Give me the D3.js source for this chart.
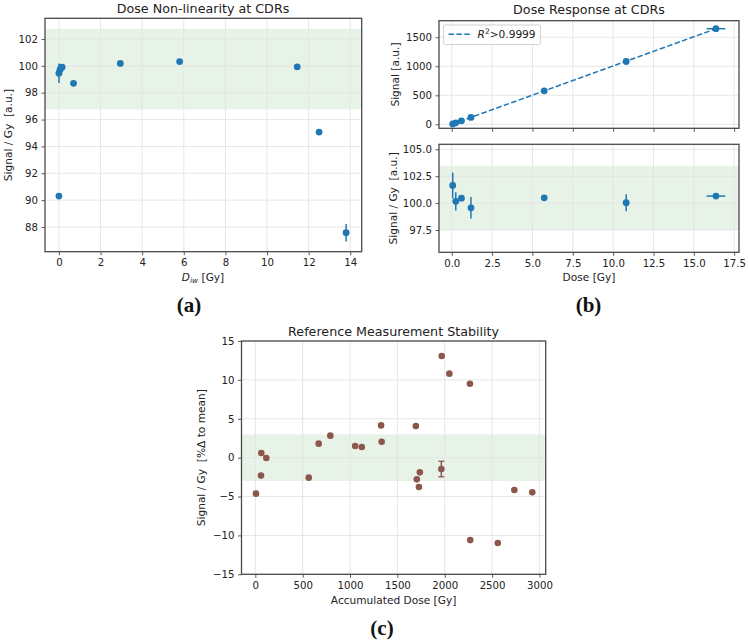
<!DOCTYPE html>
<html>
<head>
<meta charset="utf-8">
<script src="https://cdn.jsdelivr.net/npm/d3@7"></script>
<style>
  html, body { margin: 0; padding: 0; background: #fff; }
  svg { display: block; }
  text { font-family: "DejaVu Sans", sans-serif; fill: #222; }
  text.plabel { font-family: "Liberation Serif", "Times New Roman", Times, serif; font-weight: bold; fill: #111; }
</style>
</head>
<body>
<svg id="chart" width="748" height="641"></svg>
<script>
// ---------- Data ----------
// (a) Dose non-linearity
const doseA      = [0.0, 0.0, 0.05, 0.1, 0.15, 0.7, 2.95, 5.8, 11.45, 12.5, 13.8];
const sigA       = [90.3, 99.45, 99.7, 99.85, 99.9, 98.7, 100.18, 100.32, 99.93, 95.07, 87.57];
const sigErrA    = [0.1, 0.73, 0.4, 0.25, 0.15, 0.1, 0.1, 0.1, 0.1, 0.1, 0.65];
const bandA      = [96.75, 102.75];
const xTicksA    = [0, 2, 4, 6, 8, 10, 12, 14];
const yTicksA    = [88, 90, 92, 94, 96, 98, 100, 102];

// (b) Dose response
const doseB      = [0.06, 0.25, 0.6, 1.19, 5.73, 10.81, 16.37];
const doseErrB   = [0.02, 0.02, 0.03, 0.05, 0.1, 0.15, 0.58];
const signalB    = [6, 25, 60, 118, 577, 1083, 1648];
const sigPerGyB  = [101.64, 100.16, 100.46, 99.56, 100.49, 100.03, 100.65];
const sigPerGyErrB = [1.2, 0.85, 0.15, 1.0, 0.15, 0.78, 0.15];
const fitDose    = [0, 16.37];
const fitSignal  = [0, 1647];
const bandB      = [97.47, 103.47];
const xTicksB    = [0, 2.5, 5, 7.5, 10, 12.5, 15, 17.5];
const yTicksBtop = [0, 500, 1000, 1500];
const yTicksBbot = [97.5, 100, 102.5, 105];

// (c) Reference measurement stability
const accDose    = [7, 60, 63, 116, 564, 669, 792, 1054, 1124, 1328, 1334, 1695, 1705, 1727, 1737, 1964, 1968, 2049, 2266, 2269, 2560, 2735, 2924];
const devC       = [-4.63, -2.31, 0.59, -0.05, -2.57, 1.8, 2.83, 1.49, 1.36, 4.15, 2.05, 4.06, -2.79, -3.78, -1.89, -1.46, 13.07, 10.8, 9.51, -10.6, -10.98, -4.16, -4.46];
const devErrC    = [0, 0, 0, 0, 0, 0, 0, 0, 0, 0, 0, 0, 0, 0, 0, 1.0, 0, 0, 0, 0, 0, 0, 0];
const bandC      = [-3, 3];
const xTicksC    = [0, 500, 1000, 1500, 2000, 2500, 3000];
const yTicksC    = [-15, -10, -5, 0, 5, 10, 15];

// ---------- Style ----------
const BLUE = "#1f77b4", BROWN = "#8c564b";
const SPINE = "#4a4a4a", GRID = "#e3e3e3", BAND = "#e8f3e8";
const TICK_FS = 10.2, LABEL_FS = 10.6, TITLE_FS = 12.7, PANEL_FS = 21;

const svg = d3.select("#chart");

function panel(o) {
  const g = svg.append("g");
  const x = d3.scaleLinear().domain(o.xDomain).range([o.left, o.right]);
  const y = d3.scaleLinear().domain(o.yDomain).range([o.bottom, o.top]);
  if (o.band) {
    g.append("rect")
      .attr("x", o.left).attr("width", o.right - o.left)
      .attr("y", y(o.band[1])).attr("height", y(o.band[0]) - y(o.band[1]))
      .attr("fill", BAND);
  }
  const grid = g.append("g");
  grid.selectAll("line.gx").data(o.xTicks).join("line")
    .attr("x1", d => x(d)).attr("x2", d => x(d))
    .attr("y1", o.top).attr("y2", o.bottom)
    .attr("stroke", GRID).attr("stroke-width", 0.9);
  grid.selectAll("line.gy").data(o.yTicks).join("line")
    .attr("y1", d => y(d)).attr("y2", d => y(d))
    .attr("x1", o.left).attr("x2", o.right)
    .attr("stroke", GRID).attr("stroke-width", 0.9);
  const xa = g.append("g").attr("transform", `translate(0,${o.bottom})`)
    .call(d3.axisBottom(x).tickValues(o.xTicks).tickSize(3.5).tickPadding(3.5)
      .tickFormat(o.xLabels === false ? () => "" : (o.xFmt || (d => d))));
  const ya = g.append("g").attr("transform", `translate(${o.left},0)`)
    .call(d3.axisLeft(y).tickValues(o.yTicks).tickSize(3.5).tickPadding(3.5)
      .tickFormat(o.yFmt || (d => d)));
  [xa, ya].forEach(a => {
    a.select(".domain").remove();
    a.selectAll(".tick line").attr("stroke", SPINE).attr("stroke-width", 0.9);
    a.selectAll(".tick text").attr("font-size", TICK_FS).attr("fill", "#222")
      .style("font-family", "DejaVu Sans, sans-serif");
  });
  xa.selectAll(".tick text").attr("dy", "0.71em");
  g.append("rect").attr("x", o.left).attr("y", o.top)
    .attr("width", o.right - o.left).attr("height", o.bottom - o.top)
    .attr("fill", "none").attr("stroke", SPINE).attr("stroke-width", 1.3);
  return {g, x, y};
}

function minusFmt(d) { return d < 0 ? "\u2212" + Math.abs(d) : String(d); }

function panelLabel(x, y, t) {
  svg.append("text").attr("class", "plabel").attr("x", x).attr("y", y)
    .attr("text-anchor", "middle").attr("font-size", PANEL_FS).text(t);
}

// ---------- Panel (a) ----------
{
  const p = panel({left: 45, top: 18.3, right: 361.7, bottom: 251.7,
    xDomain: [-0.67, 14.55], yDomain: [86.16, 103.54],
    xTicks: xTicksA, yTicks: yTicksA, band: bandA});
  const idx = d3.range(doseA.length);
  p.g.selectAll("line.err").data(idx).join("line")
    .attr("x1", i => p.x(doseA[i])).attr("x2", i => p.x(doseA[i]))
    .attr("y1", i => p.y(sigA[i] - sigErrA[i])).attr("y2", i => p.y(sigA[i] + sigErrA[i]))
    .attr("stroke", BLUE).attr("stroke-width", 1.5);
  p.g.selectAll("circle").data(idx).join("circle")
    .attr("cx", i => p.x(doseA[i])).attr("cy", i => p.y(sigA[i]))
    .attr("r", 3.4).attr("fill", BLUE);
  svg.append("text").attr("x", 203).attr("y", 12.5).attr("text-anchor", "middle")
    .attr("font-size", TITLE_FS).text("Dose Non-linearity at CDRs");
  const xl = svg.append("text").attr("x", 203).attr("y", 281).attr("text-anchor", "middle")
    .attr("font-size", LABEL_FS);
  xl.append("tspan").attr("font-style", "italic").text("D");
  xl.append("tspan").attr("font-style", "italic").attr("font-size", 7.5).attr("dy", 2).text("iw");
  xl.append("tspan").attr("dy", -2).text(" [Gy]");
  svg.append("text").attr("transform", "translate(8,135) rotate(-90)")
    .attr("text-anchor", "middle").attr("dominant-baseline", "central")
    .attr("font-size", LABEL_FS).attr("xml:space", "preserve").text("Signal / Gy  [a.u.]");
  panelLabel(189, 312, "(a)");
}

// ---------- Panel (b) top ----------
{
  const p = panel({left: 439, top: 20.7, right: 739, bottom: 128.3,
    xDomain: [-0.79, 17.8], yDomain: [-69, 1786],
    xTicks: xTicksB, yTicks: yTicksBtop, xLabels: false});
  const line = d3.line().x((d, i) => p.x(fitDose[i])).y((d, i) => p.y(fitSignal[i]));
  p.g.append("path").datum(fitDose).attr("d", line)
    .attr("fill", "none").attr("stroke", BLUE).attr("stroke-width", 1.5)
    .attr("stroke-dasharray", "5.5,2.4");
  const idx = d3.range(doseB.length);
  p.g.selectAll("line.xerr").data(idx).join("line")
    .attr("x1", i => p.x(doseB[i] - doseErrB[i])).attr("x2", i => p.x(doseB[i] + doseErrB[i]))
    .attr("y1", i => p.y(signalB[i])).attr("y2", i => p.y(signalB[i]))
    .attr("stroke", BLUE).attr("stroke-width", 1.5);
  p.g.selectAll("circle").data(idx).join("circle")
    .attr("cx", i => p.x(doseB[i])).attr("cy", i => p.y(signalB[i]))
    .attr("r", 3.4).attr("fill", BLUE);
  const lg = svg.append("g");
  lg.append("rect").attr("x", 443.5).attr("y", 25).attr("width", 97).attr("height", 19.5)
    .attr("rx", 2).attr("fill", "#fff").attr("fill-opacity", 0.85)
    .attr("stroke", "#cccccc").attr("stroke-width", 0.9);
  lg.append("line").attr("x1", 448.5).attr("x2", 470).attr("y1", 34.3).attr("y2", 34.3)
    .attr("stroke", BLUE).attr("stroke-width", 1.5).attr("stroke-dasharray", "5.5,2.4");
  const lt = lg.append("text").attr("x", 477.5).attr("y", 38).attr("font-size", LABEL_FS);
  lt.append("tspan").attr("font-style", "italic").text("R");
  lt.append("tspan").attr("font-size", 7.5).attr("dy", -4).text("2");
  lt.append("tspan").attr("dy", 4).text(">0.9999");

  svg.append("text").attr("x", 589).attr("y", 14).attr("text-anchor", "middle")
    .attr("font-size", TITLE_FS).text("Dose Response at CDRs");
  svg.append("text").attr("transform", "translate(395.3,74.5) rotate(-90)")
    .attr("text-anchor", "middle").attr("dominant-baseline", "central")
    .attr("font-size", LABEL_FS).text("Signal [a.u.]");
}

// ---------- Panel (b) bottom ----------
{
  const p = panel({left: 439, top: 144.3, right: 739, bottom: 252.3,
    xDomain: [-0.79, 17.8], yDomain: [95.43, 105.46],
    xTicks: xTicksB, yTicks: yTicksBbot, band: bandB,
    xFmt: d3.format(".1f"), yFmt: d3.format(".1f")});
  const idx = d3.range(doseB.length);
  p.g.selectAll("line.yerr").data(idx).join("line")
    .attr("x1", i => p.x(doseB[i])).attr("x2", i => p.x(doseB[i]))
    .attr("y1", i => p.y(sigPerGyB[i] - sigPerGyErrB[i])).attr("y2", i => p.y(sigPerGyB[i] + sigPerGyErrB[i]))
    .attr("stroke", BLUE).attr("stroke-width", 1.5);
  p.g.selectAll("line.xerr").data(idx).join("line")
    .attr("x1", i => p.x(doseB[i] - doseErrB[i])).attr("x2", i => p.x(doseB[i] + doseErrB[i]))
    .attr("y1", i => p.y(sigPerGyB[i])).attr("y2", i => p.y(sigPerGyB[i]))
    .attr("stroke", BLUE).attr("stroke-width", 1.5);
  p.g.selectAll("circle").data(idx).join("circle")
    .attr("cx", i => p.x(doseB[i])).attr("cy", i => p.y(sigPerGyB[i]))
    .attr("r", 3.4).attr("fill", BLUE);
  svg.append("text").attr("x", 589).attr("y", 281).attr("text-anchor", "middle")
    .attr("font-size", LABEL_FS).text("Dose [Gy]");
  svg.append("text").attr("transform", "translate(392.5,198.3) rotate(-90)")
    .attr("text-anchor", "middle").attr("dominant-baseline", "central")
    .attr("font-size", LABEL_FS).attr("xml:space", "preserve").text("Signal / Gy  [a.u.]");
  panelLabel(588.5, 312, "(b)");
}

// ---------- Panel (c) ----------
{
  const p = panel({left: 241.5, top: 341, right: 545.7, bottom: 574.3,
    xDomain: [-146, 3066], yDomain: [-15, 15],
    xTicks: xTicksC, yTicks: yTicksC, band: bandC, yFmt: minusFmt});
  const idx = d3.range(accDose.length);
  const withErr = idx.filter(i => devErrC[i] > 0);
  p.g.selectAll("line.yerr").data(withErr).join("line")
    .attr("x1", i => p.x(accDose[i])).attr("x2", i => p.x(accDose[i]))
    .attr("y1", i => p.y(devC[i] - devErrC[i])).attr("y2", i => p.y(devC[i] + devErrC[i]))
    .attr("stroke", BROWN).attr("stroke-width", 1.5);
  [-1, 1].forEach(s => {
    p.g.selectAll("line.cap" + (s > 0 ? "u" : "d")).data(withErr).join("line")
      .attr("x1", i => p.x(accDose[i]) - 3).attr("x2", i => p.x(accDose[i]) + 3)
      .attr("y1", i => p.y(devC[i] + s * devErrC[i])).attr("y2", i => p.y(devC[i] + s * devErrC[i]))
      .attr("stroke", BROWN).attr("stroke-width", 1.3);
  });
  p.g.selectAll("circle").data(idx).join("circle")
    .attr("cx", i => p.x(accDose[i])).attr("cy", i => p.y(devC[i]))
    .attr("r", 3.3).attr("fill", BROWN);
  svg.append("text").attr("x", 393.6).attr("y", 335.5).attr("text-anchor", "middle")
    .attr("font-size", TITLE_FS).text("Reference Measurement Stability");
  svg.append("text").attr("x", 393.6).attr("y", 604).attr("text-anchor", "middle")
    .attr("font-size", LABEL_FS).text("Accumulated Dose [Gy]");
  svg.append("text").attr("transform", "translate(201,457.7) rotate(-90)")
    .attr("text-anchor", "middle").attr("dominant-baseline", "central")
    .attr("font-size", LABEL_FS).attr("xml:space", "preserve").text("Signal / Gy  [%\u0394 to mean]");
  panelLabel(382, 635, "(c)");
}
</script>
</body>
</html>
